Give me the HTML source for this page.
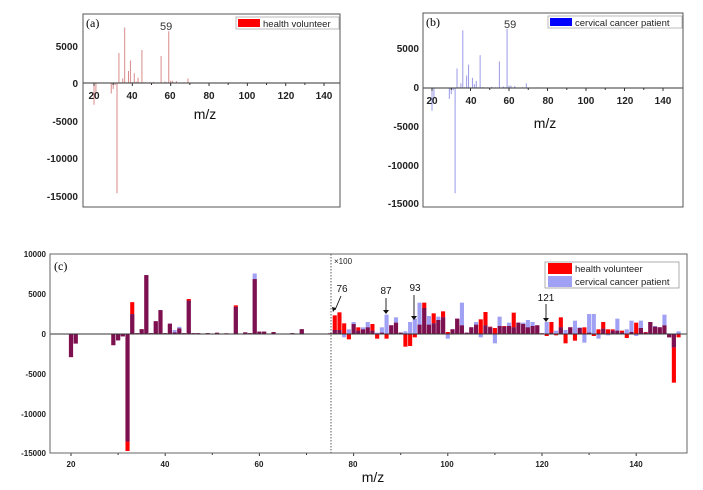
<!DOCTYPE html>
<html><head><meta charset="utf-8"><style>
html,body{margin:0;padding:0;background:#fff;}
svg{display:block;font-family:"Liberation Sans",Arial,sans-serif;}
</style></head><body>
<svg id="s" width="703" height="490" viewBox="0 0 703 490" xmlns="http://www.w3.org/2000/svg">
<rect width="703" height="490" fill="#fff"/>
<!-- panel a -->
<g id="pa"></g>
<rect x="83" y="14" width="257" height="193" fill="none" stroke="#555" stroke-width="1"/>
<text x="86" y="27" font-family="Liberation Serif,serif" font-size="12">(a)</text>
<text x="160" y="30" font-size="11" fill="#333">59</text>
<rect x="236" y="17" width="103" height="12" fill="#fff" stroke="#aaa" stroke-width="0.8"/>
<rect x="238" y="19" width="22" height="8" fill="#f00"/>
<text x="263" y="27" font-size="9.5" fill="#222">health volunteer</text>
<g font-size="10" font-weight="bold" text-anchor="end" fill="#222">
<text x="78" y="50">5000</text><text x="78" y="87">0</text><text x="78" y="125">-5000</text>
<text x="78" y="162">-10000</text><text x="78" y="200">-15000</text></g>
<g font-size="10" font-weight="bold" text-anchor="middle" fill="#222">
<text x="94" y="99">20</text><text x="132" y="99">40</text><text x="170" y="99">60</text><text x="209" y="99">80</text>
<text x="247" y="99">100</text><text x="286" y="99">120</text><text x="324" y="99">140</text></g>
<text x="205" y="119" font-size="14" text-anchor="middle" fill="#111">m/z</text>
<!-- panel b -->
<g id="pb"></g>
<rect x="423" y="13" width="260" height="194" fill="none" stroke="#555" stroke-width="1"/>
<text x="426" y="26" font-family="Liberation Serif,serif" font-size="12">(b)</text>
<text x="504" y="28" font-size="11" fill="#333">59</text>
<rect x="548" y="16" width="134" height="12" fill="#fff" stroke="#aaa" stroke-width="0.8"/>
<rect x="550" y="18" width="22" height="8" fill="#00f"/>
<text x="575" y="26" font-size="9.5" fill="#222">cervical cancer patient</text>
<g font-size="10" font-weight="bold" text-anchor="end" fill="#222">
<text x="419" y="52">5000</text><text x="419" y="91">0</text><text x="419" y="130">-5000</text>
<text x="419" y="169">-10000</text><text x="419" y="207">-15000</text></g>
<g font-size="10" font-weight="bold" text-anchor="middle" fill="#222">
<text x="432" y="104">20</text><text x="471" y="104">40</text><text x="509" y="104">60</text><text x="548" y="104">80</text>
<text x="586" y="104">100</text><text x="625" y="104">120</text><text x="663" y="104">140</text></g>
<text x="545" y="128" font-size="14" text-anchor="middle" fill="#111">m/z</text>
<!-- panel c -->
<g id="pc"></g>
<rect x="50" y="254" width="637" height="199" fill="none" stroke="#666" stroke-width="1"/>
<line x1="331" y1="254" x2="331" y2="453" stroke="#333" stroke-width="0.8" stroke-dasharray="1.5,1.5"/>
<text x="54" y="270" font-family="Liberation Serif,serif" font-size="12">(c)</text>
<text x="334" y="264" font-size="8" fill="#222">×100</text>
<rect x="545" y="262" width="134" height="26" fill="#fff" stroke="#999" stroke-width="0.8"/>
<rect x="548" y="263" width="24" height="11" fill="#f00"/>
<rect x="548" y="276" width="24" height="11" fill="#a0a0f4"/>
<text x="575" y="272" font-size="9.5" fill="#222">health volunteer</text>
<text x="575" y="285" font-size="9.5" fill="#222">cervical cancer patient</text>
<g font-size="8" font-weight="bold" text-anchor="end" fill="#222">
<text x="46" y="257">10000</text><text x="46" y="297">5000</text><text x="46" y="337">0</text>
<text x="46" y="377">-5000</text><text x="46" y="417">-10000</text><text x="46" y="456">-15000</text></g>
<g font-size="8" font-weight="bold" text-anchor="middle" fill="#222">
<text x="71" y="467">20</text><text x="165" y="467">40</text><text x="259" y="467">60</text><text x="353" y="467">80</text>
<text x="447" y="467">100</text><text x="542" y="467">120</text><text x="636" y="467">140</text></g>
<text x="373" y="482" font-size="14" text-anchor="middle" fill="#111">m/z</text>
<g font-size="10" fill="#111" text-anchor="middle">
<text x="342" y="292">76</text><text x="386" y="294">87</text><text x="415" y="291">93</text><text x="546" y="301">121</text></g>
<g stroke="#111" stroke-width="0.9">
<line x1="341" y1="296" x2="335" y2="310"/><line x1="386" y1="298" x2="386" y2="311"/>
<line x1="414" y1="295" x2="414" y2="317"/><line x1="546" y1="304" x2="546" y2="319"/></g>
<g fill="#111"><path d="M333,312 l-1,-5 4,1z"/><path d="M383,310 h6 l-3,4z"/><path d="M411,316 h6 l-3,4z"/><path d="M543,318 h6 l-3,4z"/></g>
</svg>
<script>
var NS="http://www.w3.org/2000/svg";
function R(g,x,y,w,h,f){var r=document.createElementNS(NS,"rect");r.setAttribute("x",x);r.setAttribute("y",Math.min(y,y+h));r.setAttribute("width",w);r.setAttribute("height",Math.abs(h)||0.5);r.setAttribute("fill",f);g.appendChild(r);}
function L(g,x1,y1,x2,y2,c){var l=document.createElementNS(NS,"line");l.setAttribute("x1",x1);l.setAttribute("y1",y1);l.setAttribute("x2",x2);l.setAttribute("y2",y2);l.setAttribute("stroke",c);l.setAttribute("stroke-width",1);g.appendChild(l);}
// low: [m, red, blue]
var low=[[20,-2900,-2900],[21,-1200,-1200],[29,-1400,-1400],[30,-800,-800],[31,-300,-300],[32,-14700,-13500],[33,4000,2500],[34,100,100],[35,600,600],[36,7400,7400],[37,100,100],[38,1600,1600],[39,3000,3000],[40,100,100],[41,1300,1300],[42,200,500],[43,700,900],[44,100,100],[45,4400,4200],[46,100,100],[47,100,100],[49,100,100],[51,150,150],[53,80,80],[55,3600,3400],[57,200,200],[58,100,100],[59,6900,7600],[60,300,300],[61,300,300],[63,250,250],[65,60,60],[67,100,100],[69,600,600],[71,60,60],[73,60,60],[75,80,80]];
// high in zoom px*: [m, red, blue]
var high=[[76,56,12],[77,65,12],[78,32,-10],[79,-16,14],[80,30,36],[81,20,10],[82,14,20],[83,20,36],[84,30,10],[85,-14,4],[86,4,20],[87,-14,58],[88,26,26],[89,34,50],[90,4,4],[91,-38,8],[92,-36,36],[93,-10,46],[94,28,94],[95,94,78],[96,28,54],[97,62,32],[98,42,52],[99,68,50],[100,6,-14],[101,14,14],[102,46,46],[103,26,94],[104,4,4],[105,20,20],[106,28,36],[107,44,-10],[108,66,26],[109,22,20],[110,18,-28],[111,24,52],[112,24,22],[113,24,34],[114,64,20],[115,34,34],[116,30,34],[117,20,42],[118,24,36],[119,26,26],[120,2,2],[121,-6,36],[122,36,4],[123,-4,10],[124,50,20],[125,-28,12],[126,20,20],[127,-20,40],[128,18,20],[129,20,-26],[130,4,60],[131,-6,60],[132,14,-14],[133,36,16],[134,14,-4],[135,14,10],[136,10,46],[137,10,4],[138,-12,14],[139,6,40],[140,34,-6],[141,18,40],[142,6,4],[143,36,36],[144,22,24],[145,20,20],[146,26,58],[147,-10,-10],[148,-146,-40],[149,-10,8]];
var pc=document.getElementById("pc"),pa=document.getElementById("pa"),pb=document.getElementById("pb");
var z=334,k=0.00796,bw=4.1;
function xc(m){return 71+(m-20)*4.71-bw/2;}
function bars(m,r,b){var x=xc(m);
 R(pc,x,z,bw,-r,"#f00");R(pc,x,z,bw,-b,"#a0a0f4");
 if(r*b>0){var o=Math.abs(r)<Math.abs(b)?r:b;R(pc,x,z,bw,-o,"#7d1150");}}
low.forEach(function(d){bars(d[0],d[1]*k,d[2]*k);});
high.forEach(function(d){bars(d[0],d[1]/3,d[2]/3);});
L(pc,50,z,687,z,"#333");
// panel a/b
low.forEach(function(d){var m=d[0];
 var xa=94+(m-20)*1.917;L(pa,xa,83,xa,83-d[1]*0.0075,"#d98a8a");
 var xb=432+(m-20)*1.925;L(pb,xb,88,xb,88-d[2]*0.0078,"#9a9ae8");});
L(pa,83,83,340,83,"#333");L(pb,423,88,683,88,"#333");
// ticks
for(var m=20;m<=140;m+=10){var xa=94+(m-20)*1.917,xb=432+(m-20)*1.925,h=m%20?2:3;L(pa,xa,83,xa,83+h,"#333");L(pb,xb,88,xb,88+h,"#333");
 var x=71+(m-20)*4.71;L(pc,x,453,x,453+h,"#333");}
</script>
</body></html>
